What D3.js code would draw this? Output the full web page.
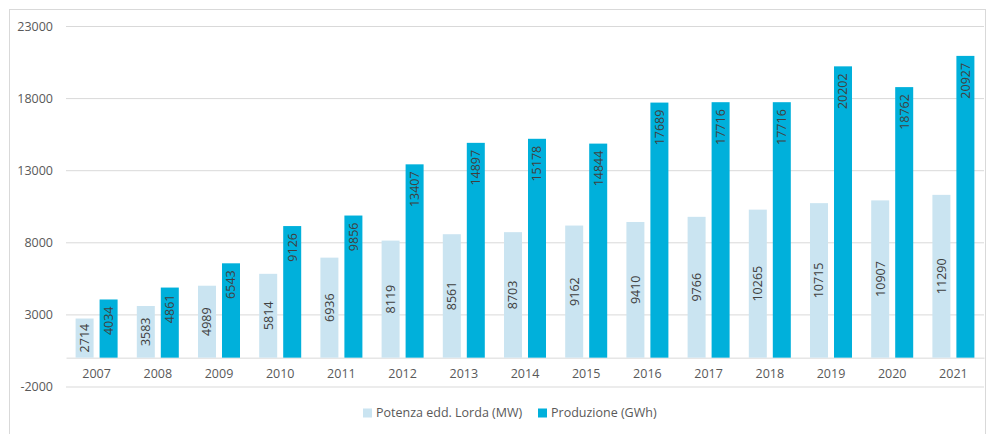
<!DOCTYPE html>
<html>
<head>
<meta charset="utf-8">
<script src="https://cdn.jsdelivr.net/npm/d3@7"></script>
<style>
  body { margin: 0; background: #fff; }
  text { font-family: "Open Sans", "Noto Sans", sans-serif; }
</style>
</head>
<body>
<div id="chart"></div>
<script>
const years = ['2007', '2008', '2009', '2010', '2011', '2012', '2013', '2014', '2015', '2016', '2017', '2018', '2019', '2020', '2021'];
const potenza = [2714, 3583, 4989, 5814, 6936, 8119, 8561, 8703, 9162, 9410, 9766, 10265, 10715, 10907, 11290];
const produzione = [4034, 4861, 6543, 9126, 9856, 13407, 14897, 15178, 14844, 17689, 17716, 17716, 20202, 18762, 20927];
const yTicks = [-2000, 3000, 8000, 13000, 18000, 23000];
const seriesNames = ['Potenza edd. Lorda (MW)', 'Produzione (GWh)'];

const width = 987;
const height = 434;
const colors = ['#cae4f1', '#00b0db'];

const svg = d3.select('#chart')
  .append('svg')
  .attr('width', width)
  .attr('height', height);

// outer frame
svg.append('rect')
  .attr('x', 9.5).attr('y', 9.5)
  .attr('width', 976).attr('height', 440)
  .attr('fill', 'none')
  .attr('stroke', '#d9d9d9');

const x = d3.scaleBand().domain(years).range([66, 984]).padding(0);
const x1 = d3.scaleBand().domain([0, 1]).range([0, x.bandwidth()])
  .paddingInner(0.25).paddingOuter(0.4);
const y = d3.scaleLinear().domain([-2000, 23000]).range([386.5, 26]);

// gridlines + y labels (plain hyphen for negatives, like the original)
const yAxis = svg.append('g')
  .attr('transform', 'translate(66,0)')
  .call(d3.axisLeft(y).tickValues(yTicks).tickSize(-918).tickPadding(13).tickFormat(d => String(d)));
yAxis.select('.domain').remove();
yAxis.selectAll('line').attr('stroke', '#d9d9d9');
yAxis.selectAll('text').attr('fill', '#595959').style('font-size', '12.5px');

// zero axis
const xAxis = svg.append('g')
  .attr('transform', `translate(0,${y(0)})`)
  .call(d3.axisBottom(x).tickSize(0).tickPadding(11));
xAxis.select('.domain').attr('stroke', '#d9d9d9');
xAxis.selectAll('text').attr('fill', '#595959').style('font-size', '12.5px');

const data = years.map((yr, i) => ({ yr, vals: [potenza[i], produzione[i]] }));

const groups = svg.append('g').selectAll('g')
  .data(data)
  .join('g')
  .attr('transform', d => `translate(${x(d.yr)},0)`);

groups.selectAll('rect')
  .data(d => d.vals.map((v, k) => ({ v, k })))
  .join('rect')
  .attr('x', d => x1(d.k))
  .attr('y', d => y(d.v))
  .attr('width', x1.bandwidth())
  .attr('height', d => y(0) - y(d.v))
  .attr('fill', d => colors[d.k]);

// data labels
groups.selectAll('text.lbl')
  .data(d => d.vals.map((v, k) => ({ v, k })))
  .join('text')
  .attr('class', 'lbl')
  .attr('transform', d => {
    const cx = x1(d.k) + x1.bandwidth() / 2;
    const cy = d.k === 0 ? (y(d.v) + y(0)) / 2 : y(d.v) + 7;
    return `translate(${cx},${cy}) rotate(-90)`;
  })
  .attr('text-anchor', d => d.k === 0 ? 'middle' : 'end')
  .attr('dy', '0.35em')
  .attr('fill', '#404040')
  .style('font-size', '12.5px')
  .text(d => d.v);

// legend
const legend = svg.append('g').attr('transform', 'translate(363,413)');
const legendX = [0, 175];
seriesNames.forEach((name, k) => {
  const g = legend.append('g').attr('transform', `translate(${legendX[k]},0)`);
  g.append('rect').attr('x', 0).attr('y', -4.5).attr('width', 9).attr('height', 9).attr('fill', colors[k]);
  g.append('text').attr('x', 13).attr('dy', '0.35em')
    .attr('fill', '#595959').style('font-size', '12.5px').text(name);
});
</script>
</body>
</html>
